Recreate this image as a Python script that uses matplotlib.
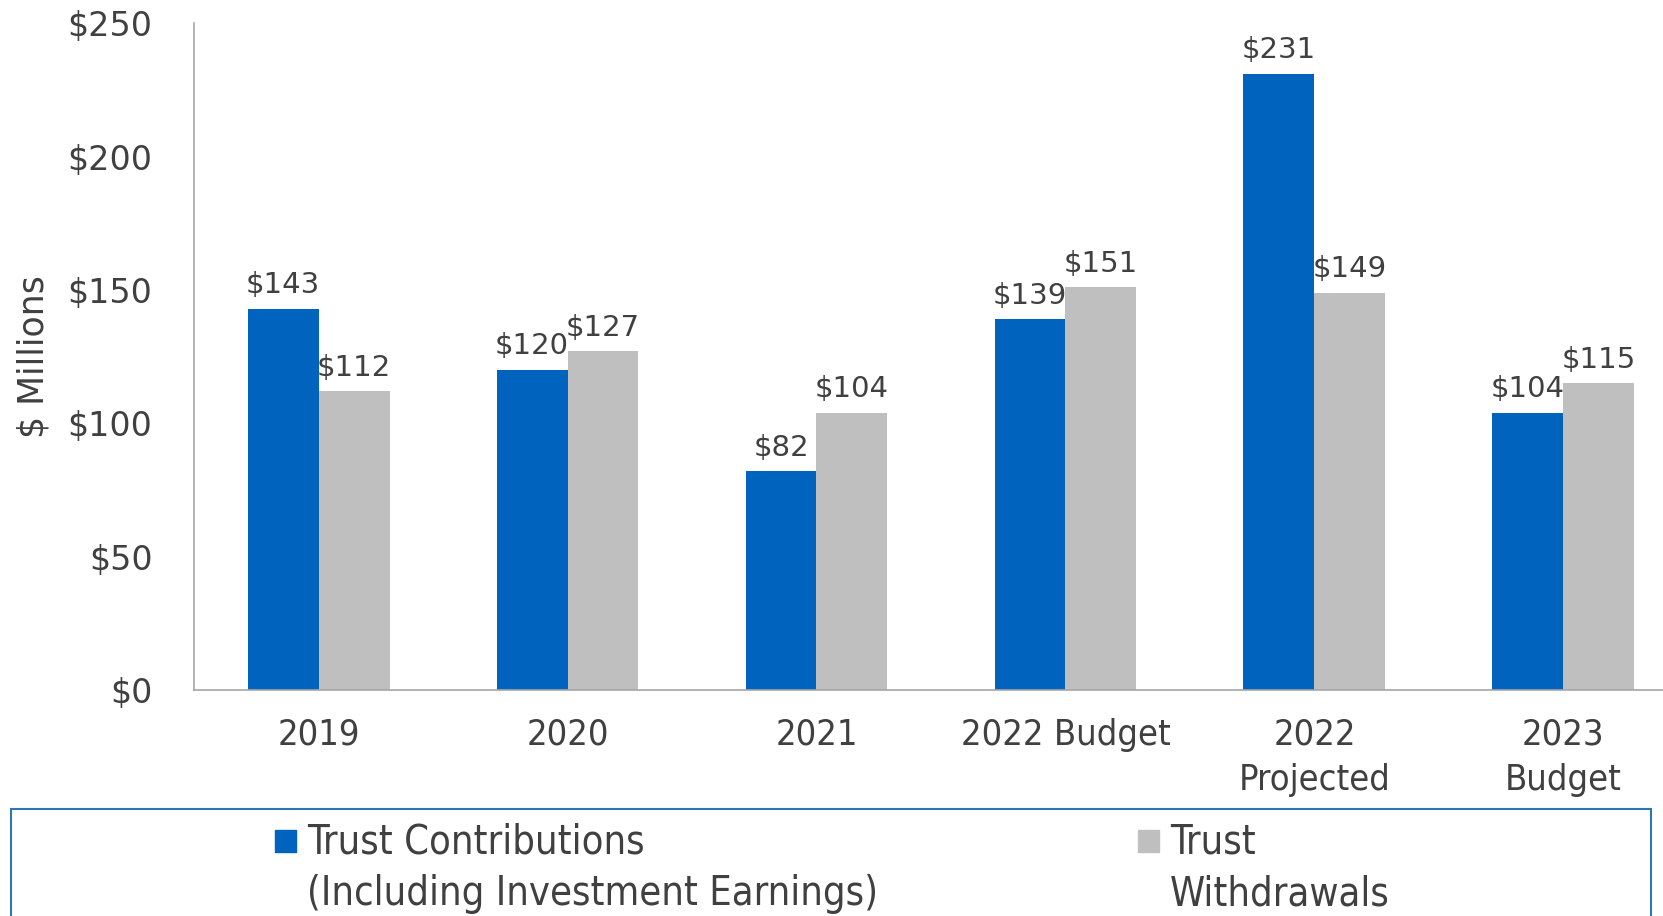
import numpy as np
import matplotlib
matplotlib.use('Agg')
import matplotlib.pyplot as plt
from matplotlib.patches import Rectangle

# chart data
categories = ['2019', '2020', '2021', '2022 Budget', '2022\nProjected', '2023\nBudget']
contributions = [143, 120, 82, 139, 231, 104]
withdrawals = [112, 127, 104, 151, 149, 115]
y_ticks = [0, 50, 100, 150, 200, 250]
legend_labels = ['Trust Contributions\n(Including Investment Earnings)', 'Trust\nWithdrawals']

blue = '#0063BE'
grey = '#BFBFBF'
txt = '#404040'

fig = plt.figure(figsize=(16.63, 9.16), dpi=100)
ax = fig.add_axes([0.1167, 0.2467, 0.8833, 0.728])

x = np.arange(len(categories))
w = 0.285
b1 = ax.bar(x - w / 2, contributions, w, color=blue)
b2 = ax.bar(x + w / 2, withdrawals, w, color=grey)

# value labels above the bars
for bars in (b1, b2):
    for r in bars:
        ax.annotate('$%d' % r.get_height(), (r.get_x() + r.get_width() / 2, r.get_height()),
                    xytext=(0, 7), textcoords='offset points', ha='center', va='bottom',
                    fontsize=21, color=txt)

ax.set_xlim(-0.5, 5.4)
ax.set_ylim(0, 250)
ax.set_yticks(y_ticks)
ax.set_yticklabels(['$%d' % v for v in y_ticks], fontsize=24, color=txt)
ax.set_xticks(x)
ax.set_xticklabels(categories, fontsize=26, color=txt, fontstretch='condensed',
                   linespacing=1.4)
ax.tick_params(axis='both', length=0)
ax.tick_params(axis='y', pad=30)
ax.tick_params(axis='x', pad=20)
ax.set_ylabel('$ Millions', fontsize=25, color=txt, labelpad=12)

for s in ('top', 'right'):
    ax.spines[s].set_visible(False)
for s in ('left', 'bottom'):
    ax.spines[s].set_color('#A6A6A6')
    ax.spines[s].set_linewidth(1.2)

# legend box drawn by hand so the swatch sits on the first text line
W, H = 1663, 916
fig.patches.append(Rectangle((10.6 / W, -0.05), (1651 - 10.6) / W, (916 - 809) / H + 0.05,
                             transform=fig.transFigure, fill=False,
                             edgecolor='#2E75B6', linewidth=1.5))
for (sx, tx), col, lab in zip([(275, 307), (1138, 1170)], [blue, grey], legend_labels):
    fig.patches.append(Rectangle((sx / W, 1 - 852 / H), 21 / W, 22 / H,
                                 transform=fig.transFigure, color=col))
    fig.text(tx / W, 1 - 822 / H, lab, fontsize=28.5, color=txt, fontstretch='condensed',
             va='top', ha='left', linespacing=1.4)

fig.savefig('out.png', dpi=100)
